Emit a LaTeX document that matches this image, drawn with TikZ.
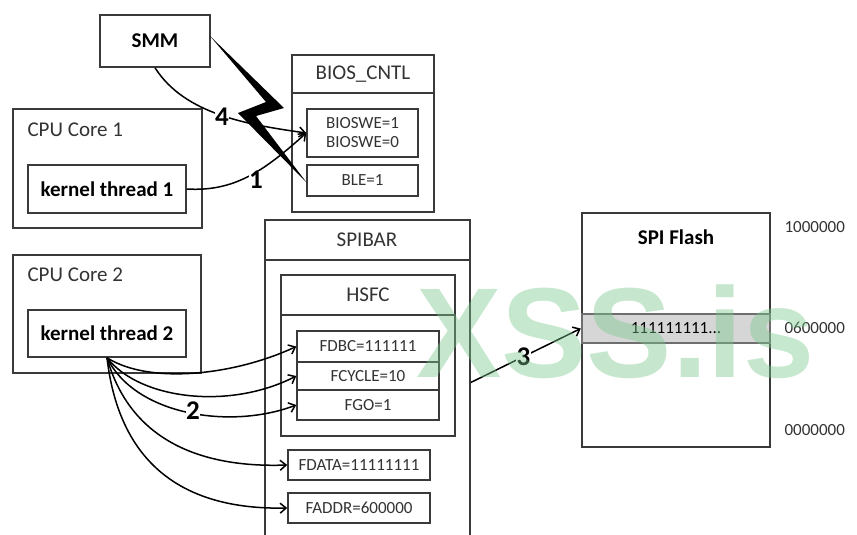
\documentclass[tikz,border=0pt]{standalone}
\usepackage{fontspec}
\setmainfont{Carlito}
\newfontfamily\wmfont{Liberation Sans}
\usetikzlibrary{arrows.meta}

\definecolor{edge}{HTML}{3A3A3A}
\definecolor{txt}{HTML}{333333}
\definecolor{bandfill}{HTML}{D6D6D6}
\definecolor{bandedge}{HTML}{6E6E6E}
\definecolor{wm}{RGB}{120,200,140}

\begin{document}
\begin{tikzpicture}[x=1pt,y=-1pt,
  box/.style={draw=edge, line width=1.5pt, inner sep=0pt, fill=white},
  title/.style={font=\fontsize{21}{24}\selectfont, text=txt},
  boldlbl/.style={font=\fontsize{21}{24}\selectfont\bfseries, text=black},
  reg/.style={font=\fontsize{17}{19}\selectfont, text=txt},
  num/.style={font=\fontsize{27}{28}\selectfont\bfseries, text=black, fill=white, inner sep=0.5pt},
  link/.style={line width=1.5pt, -{Straight Barb[length=6pt,width=10pt]}},
  rule/.style={draw=edge, line width=1.5pt},
]
\useasboundingbox (0,0) rectangle (857,535);

% ---- SMM and BIOS control register ----
\node[box, boldlbl, minimum width=110pt, minimum height=52pt] (smm) at (155,41) {SMM};
\node[box, minimum width=142pt, minimum height=157pt] (bios) at (363,133.5) {};
\draw[rule] (bios.west |- 0,93) -- (bios.east |- 0,93);
\node[title] (biost) at (363,74) {BIOS\_CNTL};
\node[box, reg, align=center, minimum width=111pt, minimum height=48pt] (bioswe) at (362.5,133) {BIOSWE=1\\BIOSWE=0};
\node[box, reg, minimum width=111pt, minimum height=31pt] (ble) at (362.5,180.5) {BLE=1};

% ---- CPU cores ----
\node[box, minimum width=189pt, minimum height=119pt] (cpu1) at (107.5,168.5) {};
\node[title, anchor=west] (cpu1t) at (24,130) {CPU Core 1};
\node[box, boldlbl, minimum width=158pt, minimum height=48pt] (kt1) at (107,189) {kernel thread 1};

\node[box, minimum width=188pt, minimum height=118pt] (cpu2) at (107,314) {};
\node[title, anchor=west] (cpu2t) at (24,275) {CPU Core 2};
\node[box, boldlbl, minimum width=158pt, minimum height=47pt] (kt2) at (107,333.5) {kernel thread 2};

% ---- SPI BAR registers (the block runs past the lower edge) ----
\node[box, minimum width=205pt, minimum height=325pt] (spibar) at (367.5,382.5) {};
\draw[rule] (spibar.west |- 0,260) -- (spibar.east |- 0,260);
\node[title] (spibart) at (367,240) {SPIBAR};

\node[box, minimum width=174pt, minimum height=161pt] (hsfc) at (368,355.5) {};
\draw[rule] (hsfc.west |- 0,315) -- (hsfc.east |- 0,315);
\node[title] (hsfct) at (368,295) {HSFC};
\node[box, reg, minimum width=142pt, minimum height=31pt] (fdbc) at (368,346.5) {FDBC=111111};
\node[box, reg, minimum width=142pt, minimum height=28pt] (fcycle) at (368,376) {FCYCLE=10};
\node[box, reg, minimum width=142pt, minimum height=30pt] (fgo) at (368,405) {FGO=1};
\node[box, reg, minimum width=142pt, minimum height=30pt] (fdata) at (359,465) {FDATA=11111111};
\node[box, reg, minimum width=142pt, minimum height=30pt] (faddr) at (359,508) {FADDR=600000};

% ---- SPI flash with the written region ----
\node[box, minimum width=188pt, minimum height=234pt] (flash) at (676,330) {};
\node[boldlbl] (flasht) at (676,237) {SPI Flash};
\node[draw=bandedge, fill=bandfill, line width=2.5pt, inner sep=0pt, minimum width=188pt, minimum height=29pt,
      font=\fontsize{17}{19}\selectfont, text=black] (band) at (676,328.5) {111111111...};
\node[reg, anchor=west] (a1) at (781,227) {1000000};
\node[reg, anchor=west] (a2) at (781,328) {0600000};
\node[reg, anchor=west] (a3) at (781,430) {0000000};

% ---- step 1 and step 4 ----
\draw[link] (kt1.east) .. controls (235,192) and (265,170) .. (bioswe.west);
\node[num] (n1) at (256,180) {1};
\draw[link] (smm.south) .. controls (185,115) and (250,125) .. (bioswe.west);
\node[num] (n4) at (222,117) {4};

% ---- step 2 ----
\draw[link] (kt2.south) .. controls (150,385) and (235,375) .. (fdbc.west);
\draw[link] (kt2.south) .. controls (140,400) and (230,410) .. (fcycle.west);
\draw[link] (kt2.south) .. controls (135,415) and (230,430) .. (fgo.west);
\draw[link] (kt2.south) .. controls (130,440) and (200,468) .. (fdata.west);
\draw[link] (kt2.south) .. controls (120,470) and (190,510) .. (faddr.west);
\node[num] (n2) at (193,411) {2};

% ---- step 3 ----
\draw[link] (spibar.east) -- node[num, pos=0.48] (n3) {3} (band.west);

% ---- SMI lightning bolt ----
\fill[black] (210,36) -- (284,108) -- (256,116) -- (307,183) -- (238,113) -- (266,102) -- cycle;

% ---- watermark ----
\node[anchor=base west, inner sep=0pt, text=wm, opacity=0.42,
      font=\wmfont\bfseries\fontsize{128}{128}\selectfont] (wmark) at (416,377) {XSS.is};
\end{tikzpicture}
\end{document}
